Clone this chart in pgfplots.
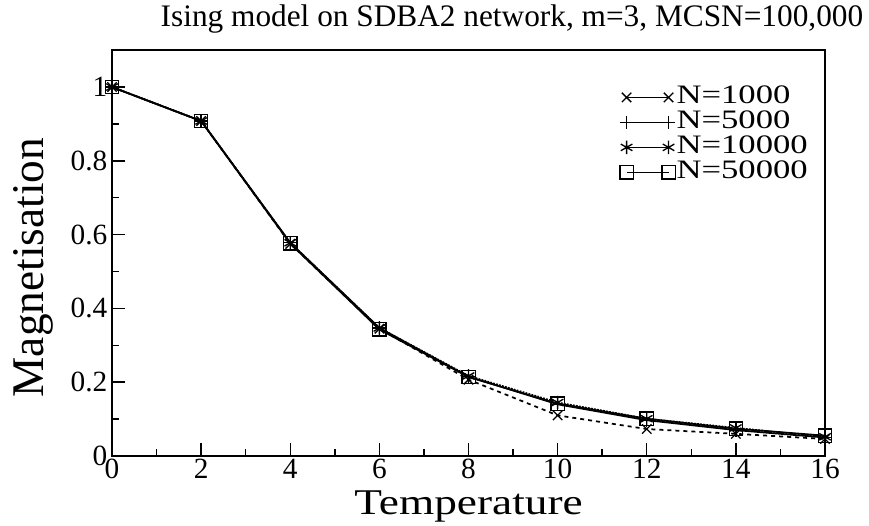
\documentclass[border=0pt]{standalone}
\usepackage{pgfplots}
\pgfplotsset{compat=1.18}
\usepackage{fontspec}
\setmainfont{Liberation Serif}

\begin{document}
\begin{tikzpicture}
\begin{axis}[
  width=535pt, height=304.5pt,
  scale only axis,
  xmin=0, xmax=16, ymin=0, ymax=1.1,
  xtick={0,2,...,16}, ytick={0,0.2,0.4,0.6,0.8,1},
  yticklabels={0,0.2,0.4,0.6,0.8,1},
  minor xtick={1,3,...,15}, minor ytick={0.1,0.3,0.5,0.7,0.9},
  tick align=inside, tick pos=left,
  major tick length=10pt, minor tick length=5.5pt,
  every tick/.style={line width=1.1pt, black},
  axis line style={line width=1.4pt},
  /pgf/number format/assume math mode=true,
  ticklabel style={font=\fontsize{22}{22}\selectfont},
  xticklabel style={yshift=-1pt, inner ysep=1pt},
  yticklabel style={xshift=0pt},
  xlabel={\scalebox{1}[0.8]{Temperature}}, ylabel={Magnetisation},
  label style={font=\fontsize{34}{34}\selectfont},
  xlabel style={at={(rel axis cs:0.5,0)}, anchor=base, yshift=-44pt, inner ysep=0pt},
  % the y label is rotated, so xshift runs along the axis and yshift away from it
  ylabel style={at={(rel axis cs:0,0.5)}, anchor=center, xshift=-11pt, yshift=59pt},
  legend style={draw=none, fill=none, at={(rel axis cs:0.712,0.915)}, anchor=north west,
    font=\fontsize{20}{20}\selectfont, row sep=0pt, inner sep=0pt,
    nodes={inner sep=1pt, text height=13pt, text depth=3.75pt}},
  legend cell align=left,
  legend image code/.code={\draw[#1, solid, mark repeat=1] plot coordinates {(0pt,0pt) (31.5pt,0pt)};},
  every axis plot/.append style={black, line width=1.3pt, mark options={solid, line width=1pt}},
  clip=false,
]
\addplot[dashed, mark=x, mark size=5pt] coordinates {
  (0,1.000) (2,0.908) (4,0.575) (6,0.345) (8,0.207) (10,0.110) (12,0.073) (14,0.060) (16,0.046)};
\addlegendentry{\scalebox{1.3}[1]{N=1000}}
\addplot[solid, mark=+, mark size=5pt] coordinates {
  (0,1.000) (2,0.908) (4,0.578) (6,0.347) (8,0.215) (10,0.140) (12,0.097) (14,0.070) (16,0.050)};
\addlegendentry{\scalebox{1.3}[1]{N=5000}}
\addplot[densely dotted, mark=asterisk, mark size=5pt] coordinates {
  (0,1.000) (2,0.908) (4,0.578) (6,0.347) (8,0.217) (10,0.145) (12,0.101) (14,0.076) (16,0.052)};
\addlegendentry{\scalebox{1.3}[1]{N=10000}}
\addplot[solid, mark=square, mark size=5pt] coordinates {
  (0,1.000) (2,0.908) (4,0.576) (6,0.343) (8,0.214) (10,0.142) (12,0.101) (14,0.074) (16,0.055)};
\addlegendentry{\scalebox{1.3}[1]{N=50000}}
\node[anchor=base, font=\fontsize{23.5}{23.5}\selectfont] at ([yshift=18pt]rel axis cs:0.561,1)
  {Ising model on SDBA2 network, m=3, MCSN=100,000};
% page frame
\path (rel axis cs:-0.1571,-0.1724) rectangle (rel axis cs:1.0617,1.1207);
\end{axis}
\end{tikzpicture}
\end{document}
